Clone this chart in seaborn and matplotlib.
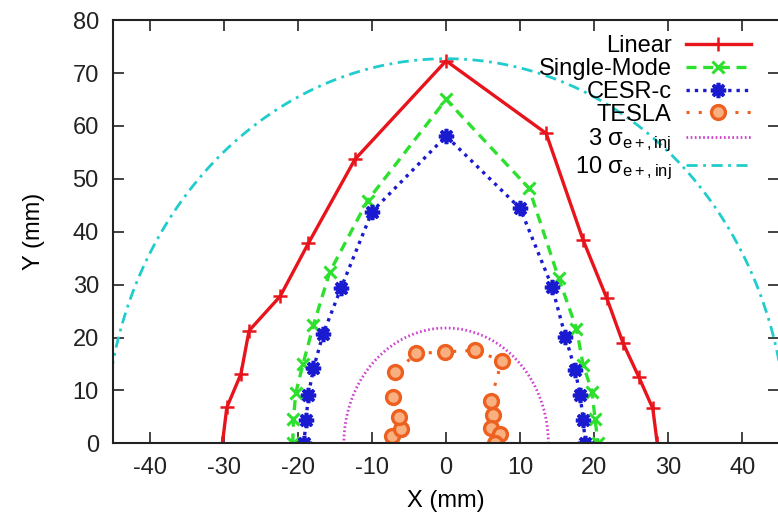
import numpy as np
import pandas as pd
import matplotlib
matplotlib.use('Agg')
import matplotlib.pyplot as plt
import seaborn as sns

# aperture boundaries (mm)
linear_x = [-30.2, -29.6, -27.7, -26.6, -22.4, -18.6, -12.3, 0.0, 13.5, 18.5, 21.7, 23.9, 26.0, 27.9, 28.5]
linear_y = [0.0, 6.8, 13.1, 21.3, 27.8, 37.8, 53.7, 72.3, 58.6, 38.4, 27.4, 18.9, 12.6, 6.6, 0.0]

single_x = [-20.7, -20.6, -20.3, -19.3, -17.9, -15.7, -10.6, 0.0, 11.2, 15.2, 17.6, 18.5, 19.7, 20.1, 20.5]
single_y = [0.0, 4.7, 9.5, 15.1, 22.4, 32.4, 45.9, 65.0, 48.2, 31.2, 21.7, 14.8, 9.8, 4.7, 0.0]

cesr_x = [-19.2, -18.9, -18.6, -17.9, -16.6, -14.2, -10.0, 0.0, 10.0, 14.3, 16.1, 17.4, 18.1, 18.5, 18.8]
cesr_y = [0.0, 4.4, 9.1, 14.2, 20.7, 29.3, 43.8, 58.1, 44.4, 29.6, 20.2, 13.9, 9.1, 4.4, 0.0]

tesla_x = [-7.3, -6.1, -6.4, -7.2, -6.9, -4.0, -0.1, 3.9, 7.5, 6.0, 6.3, 6.0, 7.3, 6.6]
tesla_y = [1.4, 2.8, 4.9, 8.8, 13.5, 17.0, 17.3, 17.6, 15.6, 8.0, 5.3, 3.0, 1.8, 0.0]

# injected positron beam size (mm)
sigma_x = 4.6
sigma_y = 7.27
n_sigma = [3, 10]

plt.rcParams['font.family'] = ['Liberation Sans', 'DejaVu Sans']
plt.rcParams['mathtext.fontset'] = 'custom'
plt.rcParams['mathtext.rm'] = 'Liberation Sans'
plt.rcParams['mathtext.it'] = 'Liberation Sans'
plt.rcParams['axes.unicode_minus'] = False

fig = plt.figure(figsize=(7.78, 5.15), dpi=100)
ax = fig.add_axes([0.1449, 0.139, 0.857, 0.822])

styles = [
    ('Linear', linear_x, linear_y, dict(color='#e8141c', linestyle='-', linewidth=2.4,
                                        marker='+', markersize=10, markeredgewidth=1.8)),
    ('Single-Mode', single_x, single_y, dict(color='#2ee02e', linestyle=(0, (3, 2)), linewidth=2.4,
                                             marker='x', markersize=9, markeredgewidth=2.2)),
    ('CESR-c', cesr_x, cesr_y, dict(color='#1a1ad0', linestyle=(0, (1, 1.5)), linewidth=2.4,
                                    marker=(8, 2, 0), markersize=11, markeredgewidth=2.6)),
    ('TESLA', tesla_x, tesla_y, dict(color='#ee6020', linestyle=(0, (1, 3)), linewidth=2.2,
                                     marker='o', markersize=10, markeredgewidth=2.4,
                                     markerfacecolor='#f8b080')),
]
for name, xs, ys, kw in styles:
    sns.lineplot(x=xs, y=ys, sort=False, estimator=None, ax=ax, label=name,
                 markeredgecolor=kw['color'], **kw)

theta = np.linspace(0, np.pi, 400)
env_colors = ['#d040d0', '#20cccc']
env_styles = [(0, (0.6, 0.9)), (0, (4, 2, 1, 2))]
for k, c, ls in zip(n_sigma, env_colors, env_styles):
    env = pd.DataFrame({'x': k * sigma_x * np.cos(theta), 'y': k * sigma_y * np.sin(theta)})
    sns.lineplot(data=env, x='x', y='y', sort=False, estimator=None, ax=ax, color=c,
                 linestyle=ls, linewidth=2.0,
                 label=r'%d $\sigma_{\mathregular{e+,inj}}$' % k)

ax.set_xlim(-45, 45)
ax.set_ylim(0, 80)
ax.set_xticks(range(-40, 41, 10))
ax.set_yticks(range(0, 81, 10))
ax.tick_params(direction='in', length=8, width=1.2, top=True, right=True,
               labelsize=17, colors='#222222')
ax.tick_params(axis='x', pad=10)
ax.tick_params(axis='y', pad=10)
for s in ax.spines.values():
    s.set_linewidth(1.5)
    s.set_color('#222222')
ax.set_xlabel('X (mm)', fontsize=17, labelpad=8)
ax.set_ylabel('Y (mm)', fontsize=17, labelpad=20)

ax.legend(loc='upper right', bbox_to_anchor=(0.957, 0.965), frameon=False, markerfirst=False,
          fontsize=17, handlelength=2.75, handletextpad=0.6, labelspacing=0.04,
          borderpad=0, borderaxespad=0)

fig.savefig('out.png', dpi=100)
